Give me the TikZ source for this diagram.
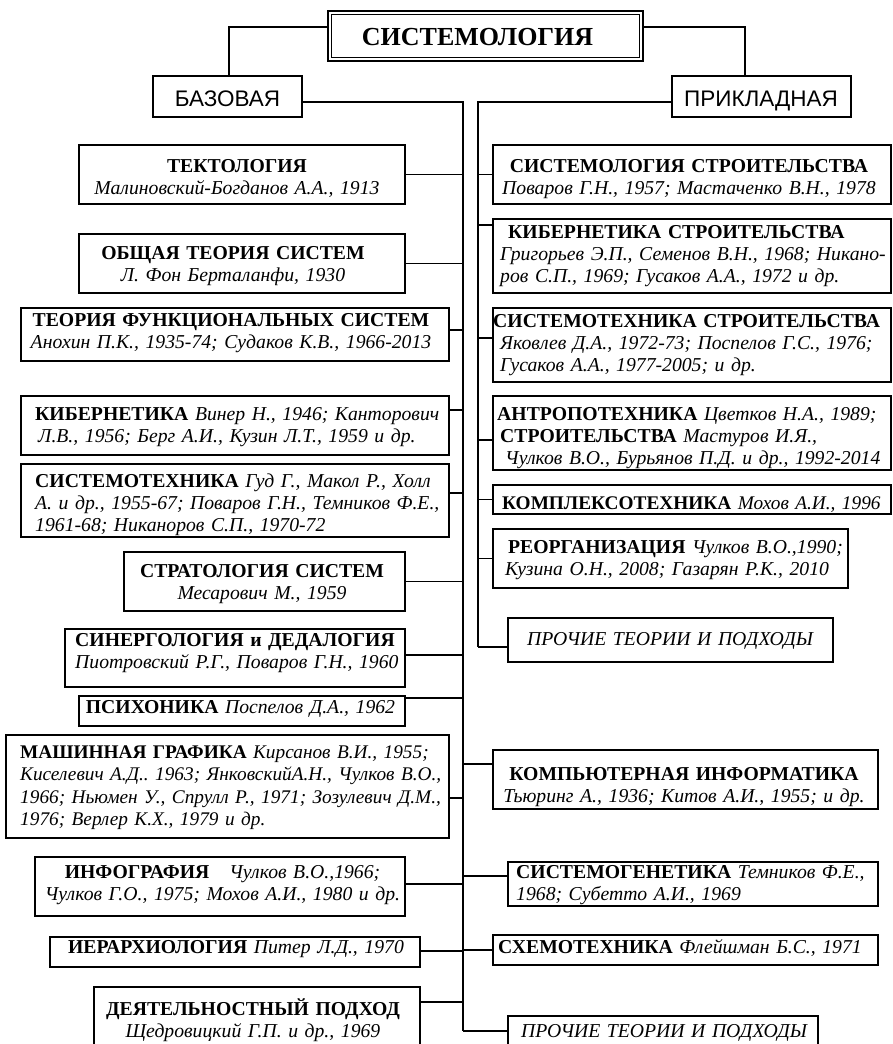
\documentclass[tikz,border=0pt]{standalone}
\usepackage{fontspec}
\setmainfont{Liberation Serif}
\newfontfamily\sansf{Liberation Sans}
\usetikzlibrary{fit}
\frenchspacing
\tikzset{
  ln/.style={draw=black, line width=1.2pt},
  bx/.style={draw=black, line width=1.2pt, inner sep=0pt, rectangle},
  tx/.style={inner sep=0pt, text width=440pt, font=\fontsize{19.7}{22.3}\selectfont},
  txs/.style={tx, font=\fontsize{19.3}{22.6}\selectfont},
  sx/.style={inner sep=0pt, font=\sansf\fontsize{22.5}{24}\selectfont},
}
\newcommand\connL[2]{\coordinate (#1c) at ([yshift=#2]#1.east); \draw[ln] (#1c) -- (#1c -| jL);}
\newcommand\connR[3]{\coordinate (#1c) at ([yshift=#2]#1.west); \draw[ln] (#1c) -- (#1c -| #3);}
\begin{document}
\frenchspacing
\begin{tikzpicture}[x=1pt,y=-1pt]
\useasboundingbox (0,0) rectangle (892,1044);
\clip (0,0) rectangle (892,1044);
% title
\node[bx, line width=2.5pt, fit={(328,11)(643,61)}] (T) {};
\draw[line width=1.1pt] ([shift={(5pt,-5pt)}]T.north west) rectangle ([shift={(-5pt,5pt)}]T.south east);
\node[inner sep=0pt, anchor=base, font=\bfseries\fontsize{26}{28}\selectfont] (Tt) at (477.5,45) {СИСТЕМОЛОГИЯ};
% level 2
\node[bx, fit={(153,76)(302,117)}] (bas) {};
\node[sx, anchor=base] (bast) at (227.5,106) {БАЗОВАЯ};
\node[bx, fit={(672,76)(851,117)}] (pr) {};
\node[sx, anchor=base] (prt) at (761,106) {ПРИКЛАДНАЯ};
\coordinate (tl) at (229,27);
\coordinate (tr) at (745,27);
\draw[ln] (T.west |- tl) -- (tl) -- (tl |- bas.north);
\draw[ln] (T.east |- tr) -- (tr) -- (tr |- pr.north);
\coordinate (jL) at (463,102);
\coordinate (jR) at (478,102);
% left boxes
\node[bx, fit={(79,145)(405,204)}] (L1) {};
\node[bx, fit={(79,234)(405,293)}] (L2) {};
\node[bx, fit={(21,308)(449,361)}] (L3) {};
\node[bx, fit={(21,396)(449,455)}] (L4) {};
\node[bx, fit={(21,464)(449,537)}] (L5) {};
\node[bx, fit={(124,552)(405,611)}] (L6) {};
\node[bx, fit={(65,629)(405,687)}] (L7) {};
\node[bx, fit={(79,696)(405,726)}] (L8) {};
\node[bx, fit={(6,735)(449,838)}] (L9) {};
\node[bx, fit={(35,857)(405,916)}] (L10) {};
\node[bx, fit={(50,937)(420,967)}] (L11) {};
\node[bx, fit={(94,987)(420,1060)}] (L12) {};
% right boxes
\node[bx, fit={(493,145)(891,204)}] (R1) {};
\node[bx, fit={(493,219)(891,293)}] (R2) {};
\node[bx, fit={(493,308)(891,382)}] (R3) {};
\node[bx, fit={(493,396)(891,470)}] (R4) {};
\node[bx, fit={(493,485)(891,514)}] (R5) {};
\node[bx, fit={(493,529)(848,588)}] (R6) {};
\node[bx, fit={(508,618)(833,662)}] (R7) {};
\node[bx, fit={(493,750)(878,809)}] (R8) {};
\node[bx, fit={(508,862)(878,906)}] (R9) {};
\node[bx, fit={(493,935)(878,965)}] (R10) {};
\node[bx, fit={(508,1016)(818,1060)}] (R11) {};
% texts left
\node[tx, anchor=base, align=center] (L1t) at (237,172) {\textbf{ТЕКТОЛОГИЯ}\\\textit{Малиновский-Богданов А.А., 1913}};
\node[tx, anchor=base, align=center] (L2t) at (233,259) {\textbf{ОБЩАЯ ТЕОРИЯ СИСТЕМ}\\\textit{Л. Фон Берталанфи, 1930}};
\node[tx, anchor=base, align=center] (L3t) at (231,326) {\textbf{ТЕОРИЯ ФУНКЦИОНАЛЬНЫХ СИСТЕМ}\\\textit{Анохин П.К., 1935-74; Судаков К.В., 1966-2013}};
\node[tx, anchor=base west, align=left] (L4t) at (35,420) {\textbf{КИБЕРНЕТИКА} \textit{Винер Н., 1946; Канторович}\\\hspace*{3pt}\textit{Л.В., 1956; Берг А.И., Кузин Л.Т., 1959 и др.}};
\node[tx, anchor=base west, align=left] (L5t) at (35,487) {\textbf{СИСТЕМОТЕХНИКА} \textit{Гуд Г., Макол Р., Холл}\\\textit{А. и др., 1955-67; Поваров Г.Н., Темников Ф.Е.,}\\\textit{1961-68; Никаноров С.П., 1970-72}};
\node[tx, anchor=base, align=center] (L6t) at (262,577) {\textbf{СТРАТОЛОГИЯ СИСТЕМ}\\\textit{Месарович М., 1959}};
\node[tx, anchor=base west, align=left] (L7t) at (75,646) {\textbf{СИНЕРГОЛОГИЯ и ДЕДАЛОГИЯ}\\\textit{Пиотровский Р.Г., Поваров Г.Н., 1960}};
\node[tx, anchor=base, align=center] (L8t) at (240.5,713) {\textbf{ПСИХОНИКА} \textit{Поспелов Д.А., 1962}};
\node[txs, anchor=base west, align=left] (L9t) at (20,758) {\textbf{МАШИННАЯ ГРАФИКА} \textit{Кирсанов В.И., 1955;}\\\textit{Киселевич А.Д.. 1963; ЯнковскийА.Н., Чулков В.О.,}\\\textit{1966; Ньюмен У., Спрулл Р., 1971; Зозулевич Д.М.,}\\\textit{1976; Верлер К.Х., 1979 и др.}};
\node[tx, anchor=base, align=center] (L10t) at (222.5,878) {\textbf{ИНФОГРАФИЯ}\hspace{20pt}\textit{Чулков В.О.,1966;}\\\textit{Чулков Г.О., 1975; Мохов А.И., 1980 и др.}};
\node[tx, anchor=base, align=center] (L11t) at (236,953) {\textbf{ИЕРАРХИОЛОГИЯ} \textit{Питер Л.Д., 1970}};
\node[tx, anchor=base, align=center] (L12t) at (253,1015) {\textbf{ДЕЯТЕЛЬНОСТНЫЙ ПОДХОД}\\\textit{Щедровицкий Г.П. и др., 1969}};
% texts right
\node[tx, anchor=base, align=center] (R1t) at (689,172) {\textbf{СИСТЕМОЛОГИЯ СТРОИТЕЛЬСТВА}\\\textit{Поваров Г.Н., 1957; Мастаченко В.Н., 1978}};
\node[tx, anchor=base west, align=left] (R2t) at (500,238) {\hspace*{8pt}\textbf{КИБЕРНЕТИКА СТРОИТЕЛЬСТВА}\\\textit{Григорьев Э.П., Семенов В.Н., 1968; Никано-}\\\textit{ров С.П., 1969; Гусаков А.А., 1972 и др.}};
\node[tx, anchor=base west, align=left] (R3t) at (493,327) {\textbf{СИСТЕМОТЕХНИКА СТРОИТЕЛЬСТВА}\\\hspace*{7pt}\textit{Яковлев Д.А., 1972-73; Поспелов Г.С., 1976;}\\\hspace*{7pt}\textit{Гусаков А.А., 1977-2005; и др.}};
\node[tx, anchor=base west, align=left] (R4t) at (497,420) {\textbf{АНТРОПОТЕХНИКА} \textit{Цветков Н.А., 1989;}\\\hspace*{3pt}\textbf{СТРОИТЕЛЬСТВА} \textit{Мастуров И.Я.,}\\\hspace*{8pt}\textit{Чулков В.О., Бурьянов П.Д. и др., 1992-2014}};
\node[txs, anchor=base west, align=left] (R5t) at (502,509) {\textbf{КОМПЛЕКСОТЕХНИКА} \textit{Мохов А.И., 1996}};
\node[tx, anchor=base west, align=left] (R6t) at (505,553) {\hspace*{3pt}\textbf{РЕОРГАНИЗАЦИЯ} \textit{Чулков В.О.,1990;}\\\textit{Кузина О.Н., 2008; Газарян Р.К., 2010}};
\node[tx, anchor=base, align=center] (R7t) at (670.5,645) {\textit{ПРОЧИЕ ТЕОРИИ И ПОДХОДЫ}};
\node[tx, anchor=base, align=center] (R8t) at (684,780) {\textbf{КОМПЬЮТЕРНАЯ ИНФОРМАТИКА}\\\textit{Тьюринг А., 1936; Китов А.И., 1955; и др.}};
\node[tx, anchor=base west, align=left] (R9t) at (516,878) {\textbf{СИСТЕМОГЕНЕТИКА} \textit{Темников Ф.Е.,}\\\textit{1968; Субетто А.И., 1969}};
\node[tx, anchor=base west, align=left] (R10t) at (498,953) {\textbf{СХЕМОТЕХНИКА} \textit{Флейшман Б.С., 1971}};
\node[tx, anchor=base, align=center] (R11t) at (664.5,1037) {\textit{ПРОЧИЕ ТЕОРИИ И ПОДХОДЫ}};
% connectors
\connR{R7}{-7pt}{jR}
\connR{R11}{7pt}{jL}
\draw[ln] (bas.east |- jL) -- (jL) -- (jL |- R11c);
\draw[ln] (pr.west |- jR) -- (jR) -- (jR |- R7c);
\connL{L1}{0pt}
\connL{L2}{0pt}
\connL{L3}{4.5pt}
\connL{L4}{15.5pt}
\connL{L5}{7.5pt}
\connL{L6}{0pt}
\connL{L7}{3pt}
\connL{L8}{13pt}
\connL{L9}{-11.5pt}
\connL{L10}{2.5pt}
\connL{L11}{1pt}
\connL{L12}{21.5pt}
\connR{R1}{0pt}{jR}
\connR{R2}{31pt}{jR}
\connR{R3}{7pt}{jR}
\connR{R4}{-7pt}{jR}
\connR{R5}{0pt}{jR}
\connR{R6}{0pt}{jR}
\connR{R8}{15.5pt}{jL}
\connR{R9}{8pt}{jL}
\connR{R10}{0pt}{jL}
\end{tikzpicture}
\end{document}
